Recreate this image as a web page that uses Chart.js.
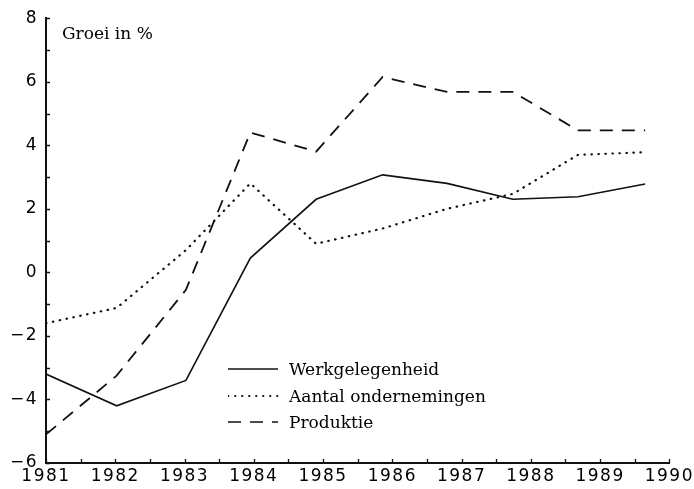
<!DOCTYPE html>
<html>
<head>
<meta charset="utf-8">
<script src="https://cdn.jsdelivr.net/npm/chart.js@4"></script>
<style>
  html, body { margin: 0; padding: 0; background: #fff; }
  #wrap { position: relative; width: 694px; height: 489px; }
  #chart { display: block; }
  .title {
    position: absolute; left: 62px; top: 23px;
    font: 17px 'DejaVu Serif', serif; color: #000;
  }
  #legend {
    position: absolute; left: 228px; top: 356px;
    font: 17px 'DejaVu Serif', serif; color: #000;
  }
  #legend ul { list-style: none; margin: 0; padding: 0; }
  #legend li { display: flex; align-items: center; height: 26.5px; }
  #legend svg { width: 52px; height: 6px; margin-right: 9px; }
</style>
</head>
<body>
<div id="wrap">
  <canvas id="chart" width="694" height="489"></canvas>
  <div class="title">Groei in %</div>
  <div id="legend"></div>
</div>
<script>
const YEARS = [1981, 1982.02, 1983.02, 1983.95, 1984.9, 1985.86, 1986.79, 1987.74, 1988.68, 1989.65]
const SERIES_NAMES = ['Werkgelegenheid', 'Aantal ondernemingen', 'Produktie']
const WERKGELEGENHEID = [-3.2, -4.2, -3.4, 0.45, 2.3, 3.07, 2.8, 2.3, 2.38, 2.78]
const ONDERNEMINGEN = [-1.6, -1.12, 0.7, 2.8, 0.9, 1.38, 2.0, 2.47, 3.7, 3.78]
const PRODUKTIE = [-5.1, -3.25, -0.55, 4.4, 3.8, 6.15, 5.68, 5.68, 4.47, 4.47]
const X_TICKS = [1981, 1982, 1983, 1984, 1985, 1986, 1987, 1988, 1989, 1990]
const Y_TICKS = [-6, -4, -2, 0, 2, 4, 6, 8]

const toPoints = (values) => values.map((v, i) => ({ x: YEARS[i], y: v }))

const STYLES = [
  { borderWidth: 1.6, borderDash: [], borderCapStyle: 'butt' },
  { borderWidth: 2.2, borderDash: [0.5, 6.5], borderCapStyle: 'round' },
  { borderWidth: 1.8, borderDash: [13, 9], borderCapStyle: 'butt' }
]

const DATA = {
  datasets: [WERKGELEGENHEID, ONDERNEMINGEN, PRODUKTIE].map((values, i) => ({
    label: SERIES_NAMES[i],
    data: toPoints(values),
    borderColor: '#111',
    pointRadius: 0,
    tension: 0,
    ...STYLES[i]
  }))
}

// wider tick digits like the printed original
const tickSpacing = {
  id: 'tickSpacing',
  beforeDraw: (chart) => { chart.ctx.letterSpacing = '1.5px' },
  afterDraw: (chart) => { chart.ctx.letterSpacing = '0px' }
}

// small tick marks pointing into the plot, with minor ones in between
const innerTicks = {
  id: 'innerTicks',
  afterDraw: (chart) => {
    const { ctx, scales: { x, y }, chartArea } = chart
    ctx.save()
    ctx.strokeStyle = '#111'
    ctx.lineWidth = 1.3
    ctx.beginPath()
    for (let v = X_TICKS[0]; v <= X_TICKS[X_TICKS.length - 1]; v += 0.5) {
      const px = Math.round(x.getPixelForValue(v)) + 0.5
      ctx.moveTo(px, chartArea.bottom)
      ctx.lineTo(px, chartArea.bottom - 4)
    }
    for (let v = Y_TICKS[0]; v <= Y_TICKS[Y_TICKS.length - 1]; v += 1) {
      const py = Math.round(y.getPixelForValue(v)) + 0.5
      ctx.moveTo(chartArea.left, py)
      ctx.lineTo(chartArea.left + 4, py)
    }
    ctx.stroke()
    ctx.restore()
  }
}

const htmlLegend = {
  id: 'htmlLegend',
  afterUpdate: (chart) => {
    const html = `<ul>${chart.data.datasets.map((ds) => (
      `<li><svg viewBox="0 0 52 6"><line x1="0" y1="3" x2="50" y2="3" stroke="${ds.borderColor}" stroke-width="${ds.borderWidth * 0.8}" stroke-dasharray="${ds.borderDash.join(' ')}" stroke-linecap="${ds.borderCapStyle}"/></svg>${ds.label}</li>`
    )).join('')}</ul>`
    document.getElementById('legend').innerHTML = html
  }
}

const tickFont = { family: "'DejaVu Sans', sans-serif", size: 17 }

const CONFIG = {
  type: 'line',
  data: DATA,
  options: {
    responsive: false,
    animation: false,
    layout: { padding: { top: 18, right: 24, left: 0, bottom: 0 } },
    plugins: {
      legend: { display: false },
      tooltip: { enabled: false }
    },
    scales: {
      x: {
        type: 'linear',
        min: X_TICKS[0],
        max: X_TICKS[X_TICKS.length - 1],
        afterBuildTicks: (scale) => { scale.ticks = X_TICKS.map((v) => ({ value: v })) },
        ticks: { font: tickFont, color: '#000', padding: 3, maxRotation: 0, autoSkip: false, callback: (v) => String(v) },
        grid: { drawOnChartArea: false, drawTicks: false },
        border: { display: true, color: '#111', width: 2 },
        afterFit: (scale) => { scale.height = 26 }
      },
      y: {
        min: Y_TICKS[0],
        max: Y_TICKS[Y_TICKS.length - 1],
        afterBuildTicks: (scale) => { scale.ticks = Y_TICKS.map((v) => ({ value: v })) },
        ticks: { font: tickFont, color: '#000', padding: 8, callback: (v) => String(v).replace('-', '\u2212') },
        grid: { drawOnChartArea: false, drawTicks: false },
        border: { display: true, color: '#111', width: 2 },
        afterFit: (scale) => { scale.width = 46 }
      }
    }
  },
  plugins: [tickSpacing, innerTicks, htmlLegend]
}

// eslint-disable-next-line no-unused-vars
const chart = new Chart(document.getElementById('chart'), CONFIG)
</script>
</body>
</html>
